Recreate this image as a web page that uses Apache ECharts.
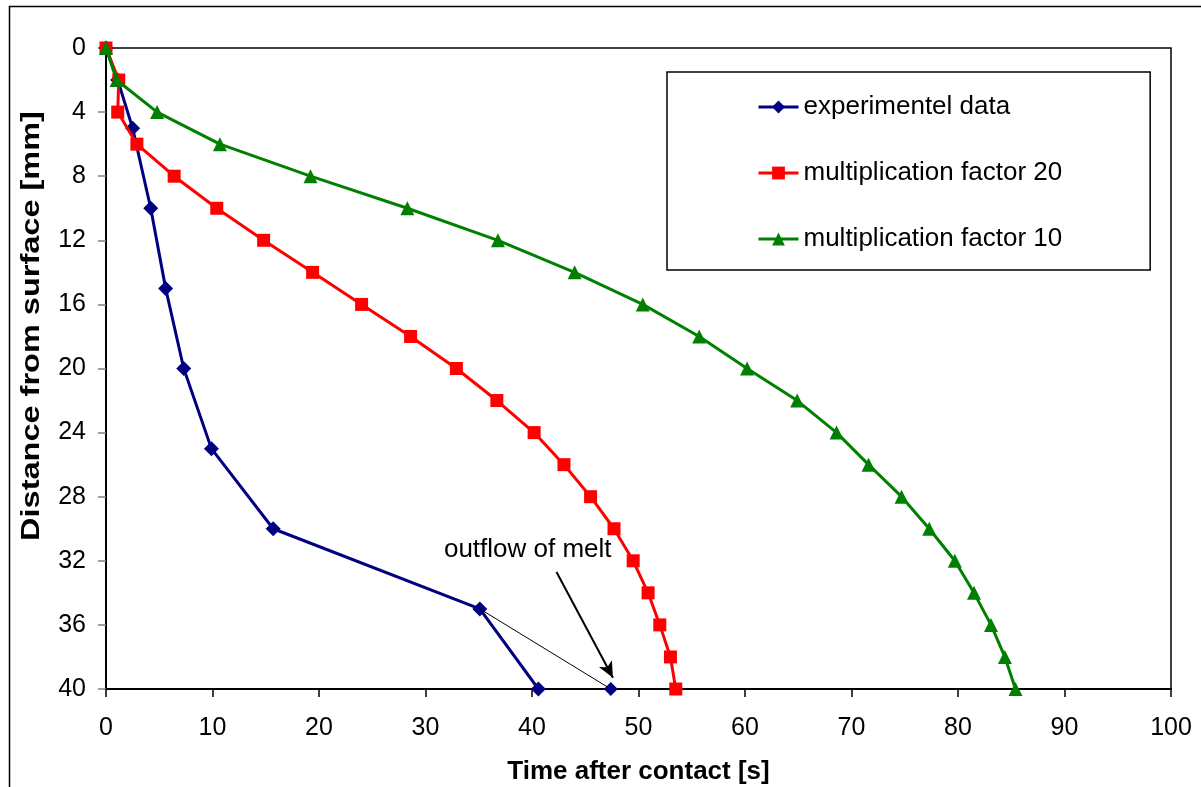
<!DOCTYPE html>
<html>
<head>
<meta charset="utf-8">
<script src="https://cdn.jsdelivr.net/npm/echarts@6/dist/echarts.min.js"></script>
<style>
  html, body { margin: 0; padding: 0; background: #fff; }
  #chart { width: 1201px; height: 787px; }
</style>
</head>
<body>
<div id="chart"></div>
<script>
// depth below surface [mm]
const depthExp = [0, 2, 5, 10, 15, 20, 25, 30, 35, 40];
const timeExp = [0, 1.1, 2.5, 4.2, 5.6, 7.3, 9.9, 15.7, 35.1, 40.6];

const depthSim = [0, 2, 4, 6, 8, 10, 12, 14, 16, 18, 20, 22, 24, 26, 28, 30, 32, 34, 36, 38, 40];
const timeF20 = [0, 1.2, 1.1, 2.9, 6.4, 10.4, 14.8, 19.4, 24.0, 28.6, 32.9, 36.7, 40.2, 43.0, 45.5, 47.7, 49.5, 50.9, 52.0, 53.0, 53.5];
const timeF10 = [0, 1.0, 4.8, 10.7, 19.2, 28.3, 36.8, 44.0, 50.4, 55.7, 60.2, 64.9, 68.6, 71.6, 74.7, 77.3, 79.7, 81.5, 83.1, 84.4, 85.4];

// outflow of melt: last measured point and shifted end point
const outflowTime = [35.1, 47.4];
const outflowDepth = [35, 40];

const xTicks = [0, 10, 20, 30, 40, 50, 60, 70, 80, 90, 100];
const yTicks = [0, 4, 8, 12, 16, 20, 24, 28, 32, 36, 40];

const FONT = "'Liberation Sans', Arial, sans-serif";

const pairs = (xs, ys) => xs.map((x, i) => [x, ys[i]]);

const chart = echarts.init(document.getElementById('chart'));

chart.setOption({
  animation: false,
  backgroundColor: '#fff',
  grid: {
    left: 106, right: 30, top: 48, bottom: 98,
    outerBoundsMode: 'none',
    containLabel: false,
    show: true, borderColor: '#000', borderWidth: 1.5, backgroundColor: 'transparent'
  },
  xAxis: {
    type: 'value',
    position: 'bottom',
    min: xTicks[0], max: xTicks[xTicks.length - 1], interval: 10,
    name: 'Time after contact [s]',
    nameLocation: 'middle',
    nameGap: 70,
    nameTextStyle: { fontFamily: FONT, fontSize: 26, fontWeight: 'bold', color: '#000' },
    axisLine: { show: true, onZero: false, lineStyle: { color: '#000', width: 2 } },
    axisTick: { show: true, inside: false, length: 8, lineStyle: { color: '#000', width: 1.5 } },
    axisLabel: { fontFamily: FONT, fontSize: 25, color: '#000', margin: 27 },
    splitLine: { show: false }
  },
  yAxis: {
    type: 'value',
    inverse: true,
    min: yTicks[0], max: yTicks[yTicks.length - 1], interval: 4,
    axisLine: { show: true, onZero: false, lineStyle: { color: '#000', width: 2 } },
    axisTick: { show: true, inside: false, length: 8, lineStyle: { color: '#808080', width: 1.5 } },
    axisLabel: { fontFamily: FONT, fontSize: 25, color: '#000', margin: 20 },
    splitLine: { show: false }
  },
  legend: {
    orient: 'vertical',
    left: 667, top: 72,
    padding: [22, 88, 18, 90],
    itemGap: 40,
    itemWidth: 40, itemHeight: 16,
    lineStyle: { width: 3 },
    borderColor: '#000', borderWidth: 1.5, backgroundColor: '#fff',
    textStyle: { fontFamily: FONT, fontSize: 26, color: '#000' },
    data: ['experimentel data', 'multiplication factor 20', 'multiplication factor 10']
  },
  graphic: [
    {
      type: 'rect', left: 7, top: 4, silent: true, z: -10,
      shape: { width: 1300, height: 900 },
      style: { fill: 'none', stroke: '#000', lineWidth: 1.5 }
    },
    {
      type: 'text', x: 32, y: 326, rotation: Math.PI / 2, scaleX: 1.25, silent: true,
      style: {
        text: 'Distance from surface [mm]', x: 0, y: 0,
        align: 'center', verticalAlign: 'middle',
        font: 'bold 26px ' + FONT, fill: '#000'
      }
    }
  ],
  series: [
    {
      name: 'experimentel data',
      type: 'line',
      clip: false,
      data: pairs(timeExp, depthExp),
      symbol: 'diamond', symbolSize: 15,
      lineStyle: { color: '#000080', width: 3 },
      itemStyle: { color: '#000080' },
      z: 2
    },
    {
      name: 'outflow',
      type: 'line',
      clip: false,
      data: outflowTime.map((t, i) => i === 0
        ? { value: [t, outflowDepth[i]], symbol: 'none' }
        : [t, outflowDepth[i]]),
      symbol: 'diamond', symbolSize: 14,
      lineStyle: { color: '#000', width: 1 },
      itemStyle: { color: '#000080' },
      z: 3,
      markLine: {
        silent: true,
        symbol: ['none', 'arrow'],
        symbolSize: [11, 16],
        label: { show: false },
        lineStyle: { color: '#000', width: 2, type: 'solid' },
        data: [[{ coord: [42.3, 32.7] }, { coord: [47.6, 39.3] }]]
      },
      markPoint: {
        silent: true,
        symbol: 'circle', symbolSize: 0,
        label: {
          show: true, position: 'inside', formatter: 'outflow of melt',
          fontFamily: FONT, fontSize: 26, color: '#000'
        },
        data: [{ coord: [39.6, 31.3] }]
      }
    },
    {
      name: 'multiplication factor 20',
      type: 'line',
      clip: false,
      data: pairs(timeF20, depthSim),
      symbol: 'rect', symbolSize: 13,
      lineStyle: { color: '#ff0000', width: 3 },
      itemStyle: { color: '#ff0000' },
      z: 4
    },
    {
      name: 'multiplication factor 10',
      type: 'line',
      clip: false,
      data: pairs(timeF10, depthSim),
      symbol: 'triangle', symbolSize: 14,
      lineStyle: { color: '#008000', width: 3 },
      itemStyle: { color: '#008000' },
      z: 5
    }
  ]
});
</script>
</body>
</html>
